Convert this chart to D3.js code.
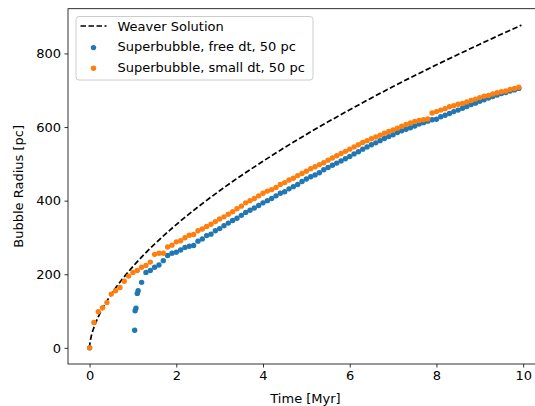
<!DOCTYPE html>
<html>
<head>
<meta charset="utf-8">
<script src="https://cdn.jsdelivr.net/npm/d3@7"></script>
<style>
  body { margin: 0; background: #fff; }
  svg { display: block; font-family: "DejaVu Sans", sans-serif; }
</style>
</head>
<body>
<svg id="chart" width="535" height="406"></svg>
<script>
// Weaver analytic solution, sampled (Myr, pc)
const weaverT = [0, 0.005, 0.01, 0.02, 0.05, 0.1, 0.2, 0.3, 0.5, 0.75, 1, 1.5, 2, 3, 4, 5, 6, 7, 8, 9, 9.96];
const weaverR = [0, 9, 14, 21, 37, 55, 84, 107, 146, 186, 221, 282, 335, 427, 507, 580, 647, 710, 769, 825, 877];

// Superbubble, small dt: one snapshot every 0.1 Myr starting at t = 0
const smallDtR = [
  0, 69, 98, 109, 123, 146, 155, 164, 181, 195,
  205, 210, 219, 224, 233, 254, 257, 257, 274, 279,
  288, 291, 299, 306, 308, 318, 323, 330, 336, 343,
  350, 356, 363, 370, 378, 385, 394, 400, 406, 413,
  420, 426, 430, 436, 444, 449, 456, 461, 468, 474,
  480, 487, 492, 498, 503, 510, 516, 522, 528, 534,
  540, 546, 552, 558, 563, 568, 573, 578, 583, 588,
  592, 597, 602, 607, 611, 615, 618, 620, 622, 638,
  642, 646, 650, 655, 658, 662, 664, 668, 672, 676,
  680, 684, 686, 690, 693, 696, 698, 702, 705, 708
];

// Superbubble, free dt: irregular early outputs, then every 0.1 Myr from 1.2 Myr
const freeDtEarlyT = [0, 1.04, 1.05, 1.07, 1.10, 1.12];
const freeDtEarlyR = [0, 48, 101, 108, 148, 155];
const freeDtR = [
  178, 205, 210, 219, 225, 237, 251, 257,
  260, 266, 273, 276, 278, 290, 296, 305, 309, 318,
  324, 332, 339, 346, 352, 360, 368, 374, 380, 387,
  394, 400, 406, 413, 420, 424, 432, 438, 444, 452,
  459, 465, 470, 476, 484, 490, 496, 502, 508, 514,
  520, 527, 533, 540, 546, 552, 557, 563, 569, 574,
  579, 585, 590, 594, 598, 603, 608, 612, 616, 620,
  621, 628, 632, 637, 642, 646, 651, 656, 661, 665,
  670, 674, 679, 683, 687, 691, 694, 698, 701, 705
];

const xTicks = [0, 2, 4, 6, 8, 10];
const yTicks = [0, 200, 400, 600, 800];

const smallDt = smallDtR.map((r, i) => ({ t: i / 10, r }));
const freeDt = freeDtEarlyT.map((t, i) => ({ t, r: freeDtEarlyR[i] }))
  .concat(freeDtR.map((r, i) => ({ t: (12 + i) / 10, r })));
const weaver = weaverT.map((t, i) => ({ t, r: weaverR[i] }));

const svg = d3.select('#chart');
const m = { left: 68, right: 543, top: 8.7, bottom: 364 };
const dotR = 2.7;
const dash = '5.5,2.5';

const x = d3.scaleLinear().domain([-0.498, 10.458]).range([m.left, m.right]);
const y = d3.scaleLinear().domain([-43.9, 921.6]).range([m.bottom, m.top]);

// Weaver dashed line
svg.append('path')
  .datum(weaver)
  .attr('fill', 'none')
  .attr('stroke', '#000')
  .attr('stroke-width', 1.7)
  .attr('stroke-dasharray', dash)
  .attr('d', d3.line().x(d => x(d.t)).y(d => y(d.r)).curve(d3.curveMonotoneX));

// scatter series
svg.append('g').selectAll('circle')
  .data(freeDt).enter().append('circle')
  .attr('cx', d => x(d.t)).attr('cy', d => y(d.r)).attr('r', dotR)
  .attr('fill', '#1f77b4');

svg.append('g').selectAll('circle')
  .data(smallDt).enter().append('circle')
  .attr('cx', d => x(d.t)).attr('cy', d => y(d.r)).attr('r', dotR)
  .attr('fill', '#ff7f0e');

// axes
const xAxis = svg.append('g')
  .attr('transform', `translate(0,${m.bottom})`)
  .call(d3.axisBottom(x).tickValues(xTicks).tickFormat(d3.format('d')).tickSizeInner(3.5).tickSizeOuter(0).tickPadding(3.5));
const yAxis = svg.append('g')
  .attr('transform', `translate(${m.left},0)`)
  .call(d3.axisLeft(y).tickValues(yTicks).tickFormat(d3.format('d')).tickSizeInner(3.5).tickSizeOuter(0).tickPadding(3.5));
[xAxis, yAxis].forEach(a => {
  a.select('.domain').remove();
  a.selectAll('line').attr('stroke', '#000').attr('stroke-width', 0.8);
  a.selectAll('text').attr('fill', '#000').style('font-size', '13px').style('font-family', '"DejaVu Sans", sans-serif');
});

// spines
svg.append('rect')
  .attr('x', m.left).attr('y', m.top)
  .attr('width', m.right - m.left).attr('height', m.bottom - m.top)
  .attr('fill', 'none').attr('stroke', '#000').attr('stroke-width', 0.8);

// axis labels
svg.append('text')
  .attr('x', (m.left + m.right) / 2).attr('y', 403)
  .attr('text-anchor', 'middle').style('font-size', '13px')
  .text('Time [Myr]');
svg.append('text')
  .attr('transform', `translate(23,${(m.top + m.bottom) / 2}) rotate(-90)`)
  .attr('text-anchor', 'middle').style('font-size', '13px')
  .text('Bubble Radius [pc]');

// legend
const legend = svg.append('g');
legend.append('rect')
  .attr('x', 76).attr('y', 16.5).attr('width', 237).attr('height', 63.5)
  .attr('rx', 3)
  .attr('fill', '#fff').attr('fill-opacity', 0.8)
  .attr('stroke', '#ccc').attr('stroke-width', 1);
const items = [
  { label: 'Weaver Solution', type: 'line' },
  { label: 'Superbubble, free dt, 50 pc', type: 'dot', color: '#1f77b4' },
  { label: 'Superbubble, small dt, 50 pc', type: 'dot', color: '#ff7f0e' }
];
items.forEach((it, i) => {
  const cy = 26 + i * 20.6;
  if (it.type === 'line') {
    legend.append('line')
      .attr('x1', 80.5).attr('x2', 106.5).attr('y1', cy).attr('y2', cy)
      .attr('stroke', '#000').attr('stroke-width', 1.7)
      .attr('stroke-dasharray', dash);
  } else {
    legend.append('circle')
      .attr('cx', 93.5).attr('cy', cy + 1).attr('r', dotR)
      .attr('fill', it.color);
  }
  legend.append('text')
    .attr('x', 117.5).attr('y', cy).attr('dy', '0.35em')
    .style('font-size', '13px')
    .text(it.label);
});
</script>
</body>
</html>
